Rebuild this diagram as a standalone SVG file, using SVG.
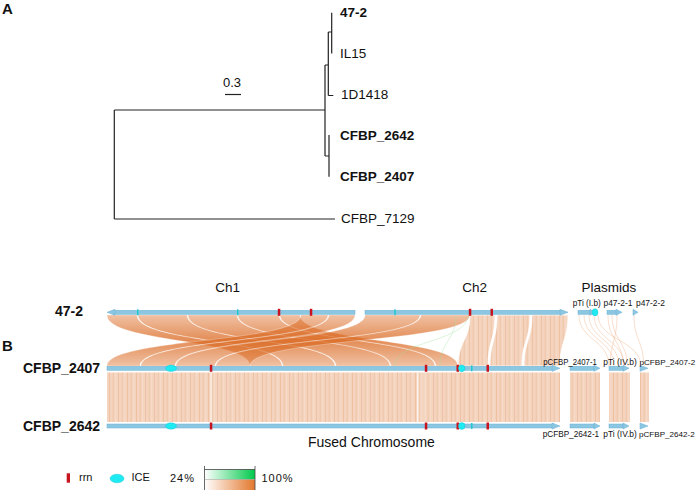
<svg xmlns="http://www.w3.org/2000/svg" width="697" height="491" viewBox="0 0 697 491">
<defs>
<style>
.t{font-family:"Liberation Sans",Arial,sans-serif;fill:#111}
.b{font-weight:bold}
.tree{fill:none;stroke:#222;stroke-width:1.2}
.bar{fill:#8CC7E2;stroke:#6AAFD3;stroke-width:0.5}
.rrn{fill:#C8141E}
.icet{fill:#20C8D0}
.ice{fill:#1EEAF2;stroke:#18BFD0;stroke-width:0.4}
.rib{fill:url(#ribg);stroke:#fff;stroke-width:0.5;stroke-opacity:0.6}
.lrib{fill:url(#stripe);stroke:#fff;stroke-width:0.8}
.pl{fill:none;stroke:#EFB08A;stroke-width:0.6;opacity:0.7}
.gl{fill:none;stroke:#9EE09E;stroke-width:0.6;opacity:0.6}
.sm{font-size:9px}
.xs{font-size:8.1px}
</style>
<linearGradient id="ribg" gradientUnits="userSpaceOnUse" x1="0" y1="315" x2="0" y2="366">
<stop offset="0" stop-color="#DB6C26" stop-opacity="0.42"/>
<stop offset="0.5" stop-color="#DB6C26" stop-opacity="0.78"/>
<stop offset="1" stop-color="#DB6C26" stop-opacity="0.42"/>
</linearGradient>
<linearGradient id="gg" x1="0" y1="0" x2="1" y2="0">
<stop offset="0" stop-color="#FFFFFF"/>
<stop offset="1" stop-color="#00C94A"/>
</linearGradient>
<linearGradient id="og" x1="0" y1="0" x2="1" y2="0">
<stop offset="0" stop-color="#FFFFFF"/>
<stop offset="1" stop-color="#E3772C"/>
</linearGradient>
<pattern id="stripe" patternUnits="userSpaceOnUse" width="9" height="10">
<rect width="9" height="10" fill="#F4D4BE"/>
<rect x="1" width="1" height="10" fill="#EDC1A2"/>
<rect x="4.5" width="1.5" height="10" fill="#F0CAAF"/>
<rect x="7.5" width="0.6" height="10" fill="#F8E0D0"/>
</pattern>
</defs>
<rect width="697" height="491" fill="#fff"/>

<!-- Panel A -->
<text class="t b" x="2" y="14" font-size="15">A</text>
<g id="tree-edges">
<path class="tree" d="M114.3 110 V219 M114.3 110 H325 M114.3 219 H335 M325 65 V156 M325 65 H328.3 M325 156 H329 M328.3 32 V95.5 M328.3 95.5 H333.3 M328.3 32 H331.7 M331.7 12.7 V53.5 M329 135 V176.7"/>
<path class="tree" d="M225 94.5 H241"/>
</g>
<text class="t" x="223" y="86.5" font-size="13">0.3</text>
<g id="tip-47-2"><text class="t b" x="340" y="16.5" font-size="13.5">47-2</text></g>
<g id="tip-IL15"><text class="t" x="340" y="57.5" font-size="13.5">IL15</text></g>
<g id="tip-1D1418"><text class="t" x="341" y="99" font-size="13.5">1D1418</text></g>
<g id="tip-CFBP_2642"><text class="t b" x="340" y="140" font-size="13.5">CFBP_2642</text></g>
<g id="tip-CFBP_2407"><text class="t b" x="340" y="181" font-size="13.5">CFBP_2407</text></g>
<g id="tip-CFBP_7129"><text class="t" x="341" y="222.5" font-size="13.5">CFBP_7129</text></g>

<!-- Panel B -->
<text class="t b" x="2" y="351" font-size="15">B</text>
<text class="t" x="227.7" y="292" font-size="13.5" text-anchor="middle">Ch1</text>
<text class="t" x="474.7" y="292" font-size="13.5" text-anchor="middle">Ch2</text>
<text class="t" x="609" y="292" font-size="13.5" text-anchor="middle">Plasmids</text>

<g id="connectors">
<!-- crossing ribbons: 47-2 Ch1/Ch2 to fused chromosome -->
<path class="rib" d="M107 315 C107 343 250 338 250 366 L282 366 C282 338 137 343 137 315 Z"/>
<path class="rib" d="M138 315 C138 343 283 338 283 366 L335 366 C335 338 187 343 187 315 Z"/>
<path class="rib" d="M188 315 C188 343 336 338 336 366 L390 366 C390 338 237 343 237 315 Z"/>
<path class="rib" d="M238 315 C238 343 391 338 391 366 L435 366 C435 338 279 343 279 315 Z"/>
<path class="rib" d="M280 315 C280 343 436 338 436 366 L458 366 C458 338 300 343 300 315 Z"/>
<path class="rib" d="M301 315 C301 343 107 338 107 366 L140 366 C140 338 328 343 328 315 Z"/>
<path class="rib" d="M329 315 C329 343 141 338 141 366 L175 366 C175 338 355 343 355 315 Z"/>
<path class="rib" d="M365 315 C365 343 176 338 176 366 L215 366 C215 338 420 343 420 315 Z"/>
<path class="rib" d="M421 315 C421 343 216 338 216 366 L250 366 C250 338 470 343 470 315 Z"/>
<!-- Ch2 light ribbons -->
<path class="lrib" d="M470 315 C470 340 458 341 458 366 L488 366 C488 341 495 340 495 315 Z"/>
<path class="lrib" d="M497 315 C497 340 490 341 490 366 L522 366 C522 341 530 340 530 315 Z"/>
<path class="lrib" d="M532 315 C532 340 524 341 524 366 L560 366 C560 341 568 340 568 315 Z"/>
<path class="gl" d="M468 315 C468 342 395 340 395 366 M456 315 C456 340 440 342 440 366"/>
<!-- plasmid links -->
<path class="pl" d="M579 315 C579 340 609 340 609 366 M584 315 C584 340 614 340 614 366 M589 315 C589 340 619 340 619 366 M594 315 C594 340 624 340 624 366 M598 315 C598 340 640 340 641 366 M608 315 C608 340 622 340 624 366 M612 315 C612 340 626 340 628 366 M617 315 C617 340 611 340 610 366 M634 315 C634 340 643 340 644 366"/>
<!-- CFBP_2407 to CFBP_2642 -->
<rect x="107" y="372.5" width="453" height="49.5" fill="url(#stripe)"/>
<rect x="210.5" y="372.5" width="1.2" height="49.5" fill="#fff" opacity="0.8"/>
<rect x="417" y="372.5" width="1.5" height="49.5" fill="#fff" opacity="0.7"/>
<rect x="424.5" y="372.5" width="0.8" height="49.5" fill="#fff" opacity="0.7"/>
<rect x="570" y="372.5" width="30" height="49.5" fill="url(#stripe)"/>
<rect x="609" y="372.5" width="21" height="49.5" fill="url(#stripe)"/>
<rect x="640" y="372.5" width="9" height="49.5" fill="url(#stripe)"/>
</g>

<g id="genome-47-2">
<text class="t b" x="55" y="315.5" font-size="14">47-2</text>
<rect class="bar" x="113" y="310.3" width="242" height="4"/>
<polygon class="bar" points="107,312.3 115,309.3 115,315.3"/>
<rect class="bar" x="365" y="310.3" width="196" height="4"/>
<polygon class="bar" points="568,312.3 560,309.3 560,315.3"/>
<rect class="icet" x="137" y="309.3" width="1.5" height="6"/>
<rect class="icet" x="237" y="309.3" width="1.5" height="6"/>
<rect class="icet" x="394.3" y="309.3" width="1.5" height="6"/>
<rect class="rrn" x="277.8" y="308.8" width="2.5" height="7"/>
<rect class="rrn" x="309.8" y="308.8" width="2.5" height="7"/>
<rect class="rrn" x="468.8" y="308.8" width="2.5" height="7"/>
<rect class="rrn" x="490.5" y="308.8" width="2.5" height="7"/>
<rect class="bar" x="578" y="310.3" width="12" height="4"/>
<polygon class="bar" points="596,312.3 590,309.3 590,315.3"/>
<ellipse class="ice" cx="595" cy="312.3" rx="3" ry="3.6"/>
<rect class="bar" x="607" y="310.3" width="10" height="4"/>
<polygon class="bar" points="622,312.3 616,309.3 616,315.3"/>
<polygon class="bar" points="638,312.3 633,309.3 633,315.3"/>
<text class="t sm" x="572.7" y="305.5" textLength="28" lengthAdjust="spacingAndGlyphs">pTi (I.b)</text>
<text class="t sm" x="603.5" y="305.5" textLength="29" lengthAdjust="spacingAndGlyphs">p47-2-1</text>
<text class="t sm" x="636" y="305.5" textLength="29" lengthAdjust="spacingAndGlyphs">p47-2-2</text>
</g>

<g id="genome-CFBP_2407">
<text class="t b" x="23" y="372.5" font-size="14">CFBP_2407</text>
<rect class="bar" x="107" y="366.3" width="447" height="4"/>
<polygon class="bar" points="560,368.3 552,365.3 552,371.3"/>
<ellipse class="ice" cx="171" cy="368.3" rx="5.5" ry="3.2"/>
<rect class="rrn" x="209.8" y="364.8" width="2.5" height="7"/>
<rect class="rrn" x="424.8" y="364.8" width="2.5" height="7"/>
<rect class="rrn" x="456.5" y="364.8" width="2.5" height="7"/>
<ellipse class="ice" cx="461.7" cy="368.3" rx="3.3" ry="3.4"/>
<rect class="icet" x="471" y="365.3" width="1.5" height="6"/>
<rect class="rrn" x="486.5" y="364.8" width="2.5" height="7"/>
<rect class="bar" x="570" y="366.3" width="24" height="4"/>
<polygon class="bar" points="600,368.3 594,365.3 594,371.3"/>
<rect class="bar" x="609" y="366.3" width="14" height="4"/>
<polygon class="bar" points="629,368.3 623,365.3 623,371.3"/>
<polygon class="bar" points="648,368.3 640,365.3 640,371.3"/>
<text class="t sm" x="543.3" y="364.5" textLength="53.5" lengthAdjust="spacingAndGlyphs">pCFBP_2407-1</text>
<text class="t sm" x="603.3" y="364.5" textLength="33.5" lengthAdjust="spacingAndGlyphs">pTi (IV.b)</text>
<text class="t xs" x="639.5" y="364.5">pCFBP_2407-2</text>
</g>

<g id="genome-CFBP_2642">
<text class="t b" x="23" y="431" font-size="14">CFBP_2642</text>
<rect class="bar" x="107" y="424" width="447" height="4"/>
<polygon class="bar" points="560,426 552,423 552,429"/>
<ellipse class="ice" cx="171" cy="426" rx="5.5" ry="3.2"/>
<rect class="rrn" x="209.8" y="422.5" width="2.5" height="7"/>
<rect class="rrn" x="424.8" y="422.5" width="2.5" height="7"/>
<rect class="rrn" x="456.5" y="422.5" width="2.5" height="7"/>
<ellipse class="ice" cx="461.7" cy="426" rx="3.3" ry="3.4"/>
<rect class="icet" x="471" y="423" width="1.5" height="6"/>
<rect class="rrn" x="486.5" y="422.5" width="2.5" height="7"/>
<rect class="bar" x="570" y="424" width="24" height="4"/>
<polygon class="bar" points="600,426 594,423 594,429"/>
<rect class="bar" x="609" y="424" width="14" height="4"/>
<polygon class="bar" points="629,426 623,423 623,429"/>
<polygon class="bar" points="648,426 640,423 640,429"/>
<text class="t sm" x="542.7" y="437" textLength="56.5" lengthAdjust="spacingAndGlyphs">pCFBP_2642-1</text>
<text class="t sm" x="603.3" y="437" textLength="33.5" lengthAdjust="spacingAndGlyphs">pTi (IV.b)</text>
<text class="t xs" x="639" y="437">pCFBP_2642-2</text>
<text class="t" x="308" y="447" font-size="14">Fused Chromosome</text>
</g>

<g id="legend">
<rect class="rrn" x="66.7" y="473.3" width="3.3" height="9.4"/>
<text class="t" x="79" y="481" font-size="11">rrn</text>
<ellipse class="ice" cx="117" cy="478.5" rx="7" ry="4.3"/>
<text class="t" x="131.5" y="481" font-size="11">ICE</text>
<text class="t" x="170" y="481.5" font-size="11" letter-spacing="1">24%</text>
<rect x="204.5" y="469.5" width="50.5" height="10" fill="url(#gg)"/>
<rect x="204.5" y="479.5" width="50.5" height="10.5" fill="url(#og)"/>
<path d="M204.5 466 V490 M255 466 V490 M204.5 469.5 H255" fill="none" stroke="#444" stroke-width="0.8"/>
<path d="M204.5 479.5 H255" fill="none" stroke="#999" stroke-width="0.5"/>
<text class="t" x="261.5" y="482" font-size="11" letter-spacing="1">100%</text>
</g>
</svg>
